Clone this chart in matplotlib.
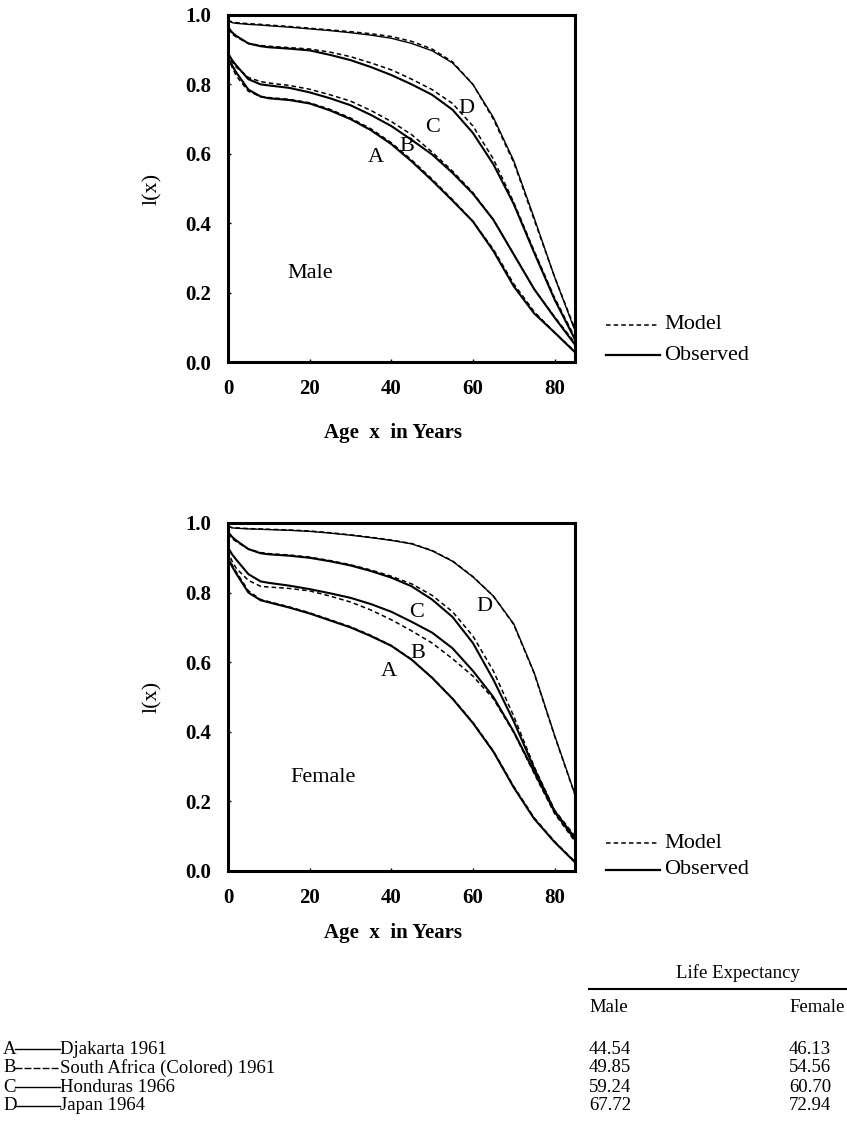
import matplotlib
matplotlib.use('Agg')
import matplotlib.pyplot as plt
from matplotlib.lines import Line2D

plt.rcParams['font.family'] = ['Liberation Serif', 'DejaVu Serif']

W, H = 847, 1141

# ---------------- data ----------------
ages = [0, 1, 2, 5, 8, 10, 15, 20, 25, 30, 35, 40, 45, 50, 55, 60, 65, 70, 75, 80, 85]

male_A_obs = [0.875, 0.855, 0.835, 0.785, 0.765, 0.760, 0.755, 0.745, 0.725, 0.700, 0.668,
              0.628, 0.578, 0.523, 0.465, 0.405, 0.320, 0.218, 0.140, 0.085, 0.028]
male_A_mod = [0.880, 0.850, 0.825, 0.780, 0.765, 0.762, 0.757, 0.747, 0.728, 0.703, 0.672,
              0.632, 0.582, 0.527, 0.468, 0.405, 0.325, 0.225, 0.145, 0.085, 0.030]
male_B_obs = [0.890, 0.870, 0.855, 0.815, 0.800, 0.797, 0.790, 0.777, 0.760, 0.740, 0.712,
              0.680, 0.640, 0.598, 0.545, 0.485, 0.410, 0.310, 0.210, 0.128, 0.050]
male_B_mod = [0.890, 0.865, 0.850, 0.820, 0.808, 0.804, 0.797, 0.786, 0.770, 0.752, 0.725,
              0.693, 0.655, 0.605, 0.550, 0.488, 0.410, 0.310, 0.210, 0.130, 0.055]
male_C_obs = [0.965, 0.950, 0.940, 0.918, 0.910, 0.907, 0.903, 0.898, 0.885, 0.870, 0.850,
              0.827, 0.800, 0.770, 0.727, 0.660, 0.570, 0.455, 0.315, 0.180, 0.065]
male_C_mod = [0.960, 0.945, 0.937, 0.918, 0.912, 0.910, 0.906, 0.902, 0.893, 0.880, 0.862,
              0.842, 0.815, 0.785, 0.745, 0.680, 0.585, 0.460, 0.320, 0.185, 0.070]
male_D_obs = [0.985, 0.978, 0.976, 0.973, 0.971, 0.969, 0.965, 0.960, 0.955, 0.949, 0.942,
              0.933, 0.918, 0.897, 0.862, 0.800, 0.705, 0.580, 0.415, 0.245, 0.090]
male_D_mod = [0.985, 0.980, 0.978, 0.975, 0.973, 0.971, 0.967, 0.962, 0.957, 0.952, 0.946,
              0.938, 0.924, 0.902, 0.865, 0.800, 0.700, 0.575, 0.410, 0.245, 0.095]

female_A_obs = [0.900, 0.875, 0.855, 0.800, 0.778, 0.772, 0.757, 0.740, 0.720, 0.700, 0.675,
                0.647, 0.607, 0.555, 0.495, 0.425, 0.343, 0.240, 0.150, 0.083, 0.025]
female_A_mod = [0.905, 0.880, 0.860, 0.805, 0.780, 0.774, 0.759, 0.742, 0.722, 0.702, 0.677,
                0.648, 0.608, 0.556, 0.496, 0.427, 0.345, 0.243, 0.153, 0.085, 0.027]
female_B_obs = [0.930, 0.910, 0.895, 0.853, 0.832, 0.828, 0.820, 0.810, 0.798, 0.785, 0.767,
                0.745, 0.716, 0.685, 0.640, 0.575, 0.500, 0.400, 0.285, 0.170, 0.090]
female_B_mod = [0.920, 0.890, 0.870, 0.835, 0.818, 0.816, 0.812, 0.805, 0.790, 0.773, 0.750,
                0.722, 0.690, 0.655, 0.610, 0.560, 0.495, 0.398, 0.280, 0.165, 0.085]
female_C_obs = [0.975, 0.960, 0.950, 0.925, 0.913, 0.910, 0.906, 0.900, 0.890, 0.878, 0.862,
                0.843, 0.818, 0.780, 0.730, 0.655, 0.550, 0.430, 0.295, 0.172, 0.095]
female_C_mod = [0.970, 0.955, 0.947, 0.925, 0.915, 0.912, 0.908, 0.902, 0.892, 0.880, 0.865,
                0.847, 0.825, 0.792, 0.745, 0.675, 0.575, 0.445, 0.300, 0.175, 0.100]
female_D_obs = [0.990, 0.986, 0.985, 0.983, 0.982, 0.981, 0.979, 0.976, 0.971, 0.965, 0.958,
                0.950, 0.940, 0.920, 0.890, 0.845, 0.790, 0.710, 0.570, 0.390, 0.220]
female_D_mod = [0.990, 0.987, 0.986, 0.984, 0.983, 0.982, 0.980, 0.977, 0.972, 0.966, 0.959,
                0.951, 0.941, 0.921, 0.891, 0.846, 0.790, 0.708, 0.568, 0.388, 0.218]

curve_letters = ['A', 'B', 'C', 'D']
male_label_pos = [(36.3, 0.588), (43.7, 0.620), (50.1, 0.677), (58.5, 0.730)]
female_label_pos = [(39.5, 0.572), (46.5, 0.626), (46.1, 0.744), (62.9, 0.759)]

xticks = [0, 20, 40, 60, 80]
yticks = [0.0, 0.2, 0.4, 0.6, 0.8, 1.0]

places = ['Djakarta 1961', 'South Africa (Colored) 1961', 'Honduras 1966', 'Japan 1964']
e0_male = ['44.54', '49.85', '59.24', '67.72']
e0_female = ['46.13', '54.56', '60.70', '72.94']

# ---------------- figure ----------------
fig = plt.figure(figsize=(W / 100, H / 100), dpi=100)


def fx(px):
    return px / W


def fy(py):
    return 1 - py / H


def make_panel(top, bottom, obs, mod, labels, sex_text, sex_pos, xlab_y):
    left, right = 228, 575
    ax = fig.add_axes([fx(left), fy(bottom), (right - left) / W, (bottom - top) / H])
    for m in mod:
        ax.plot(ages, m, color='black', lw=1.1, ls=(0, (3, 2)))
    for i, o in enumerate(obs):
        ax.plot(ages, o, color='black', lw=1.0 if i == 3 else 1.5)
    ax.set_xlim(0, 85)
    ax.set_ylim(0, 1.0)
    ax.set_xticks(xticks)
    ax.set_xticklabels([str(t) for t in xticks])
    ax.set_yticks(yticks)
    ax.set_yticklabels(['%.1f' % t for t in yticks])
    ax.tick_params(direction='in', length=2, width=1, labelsize=15, pad=12)
    for lab in ax.get_xticklabels() + ax.get_yticklabels():
        lab.set_fontweight('bold')
    for s in ax.spines.values():
        s.set_linewidth(2.2)
    for (x, y), t in zip(labels, curve_letters):
        ax.text(x, y, t, fontsize=16, ha='center', va='center')
    ax.text(sex_pos[0], sex_pos[1], sex_text, fontsize=16, ha='center', va='center')
    # y label
    fig.text(fx(152), fy((top + bottom) / 2), 'l(x)', rotation=90, fontsize=16,
             ha='center', va='center')
    # x label
    fig.text(fx(393), fy(xlab_y), 'Age  x  in Years', fontsize=15, fontweight='bold',
             ha='center', va='center')
    return ax


make_panel(15, 362, [male_A_obs, male_B_obs, male_C_obs, male_D_obs],
           [male_A_mod, male_B_mod, male_C_mod, male_D_mod],
           male_label_pos, 'Male', (20.2, 0.256), 433)
make_panel(523, 871, [female_A_obs, female_B_obs, female_C_obs, female_D_obs],
           [female_A_mod, female_B_mod, female_C_mod, female_D_mod],
           female_label_pos, 'Female', (23.2, 0.27), 933)


def legend(y_model, y_obs):
    fig.add_artist(Line2D([fx(606), fx(657)], [fy(y_model), fy(y_model)], color='black',
                          lw=1.1, ls=(0, (3, 2))))
    fig.add_artist(Line2D([fx(606), fx(660)], [fy(y_obs), fy(y_obs)], color='black', lw=1.6))
    fig.text(fx(664), fy(y_model), 'Model', fontsize=16, va='center', ha='left')
    fig.text(fx(664), fy(y_obs), 'Observed', fontsize=16, va='center', ha='left')


legend(325, 355)
legend(843, 870)

# ---------------- table ----------------
row_y = [1049, 1068, 1087, 1106]
row_styles = ['-', (0, (5, 1.5)), '-', '-']
for y, letter, place, st, em, ef in zip(row_y, curve_letters, places, row_styles,
                                        e0_male, e0_female):
    fig.text(fx(3), fy(y), letter, fontsize=13.5, va='center', ha='left')
    fig.add_artist(Line2D([fx(15), fx(60)], [fy(y), fy(y)], color='black', lw=1.0, ls=st))
    fig.text(fx(60), fy(y), place, fontsize=13.5, va='center', ha='left')
    fig.text(fx(589), fy(y), em, fontsize=13.5, va='center', ha='left')
    fig.text(fx(789), fy(y), ef, fontsize=13.5, va='center', ha='left')

fig.text(fx(738), fy(973), 'Life Expectancy', fontsize=13.5, va='center', ha='center')
fig.add_artist(Line2D([fx(589), fx(847)], [fy(989), fy(989)], color='black', lw=1.5))
fig.text(fx(589), fy(1008), 'Male', fontsize=13.5, va='center', ha='left')
fig.text(fx(789), fy(1008), 'Female', fontsize=13.5, va='center', ha='left')

fig.savefig('out.png', dpi=100)
